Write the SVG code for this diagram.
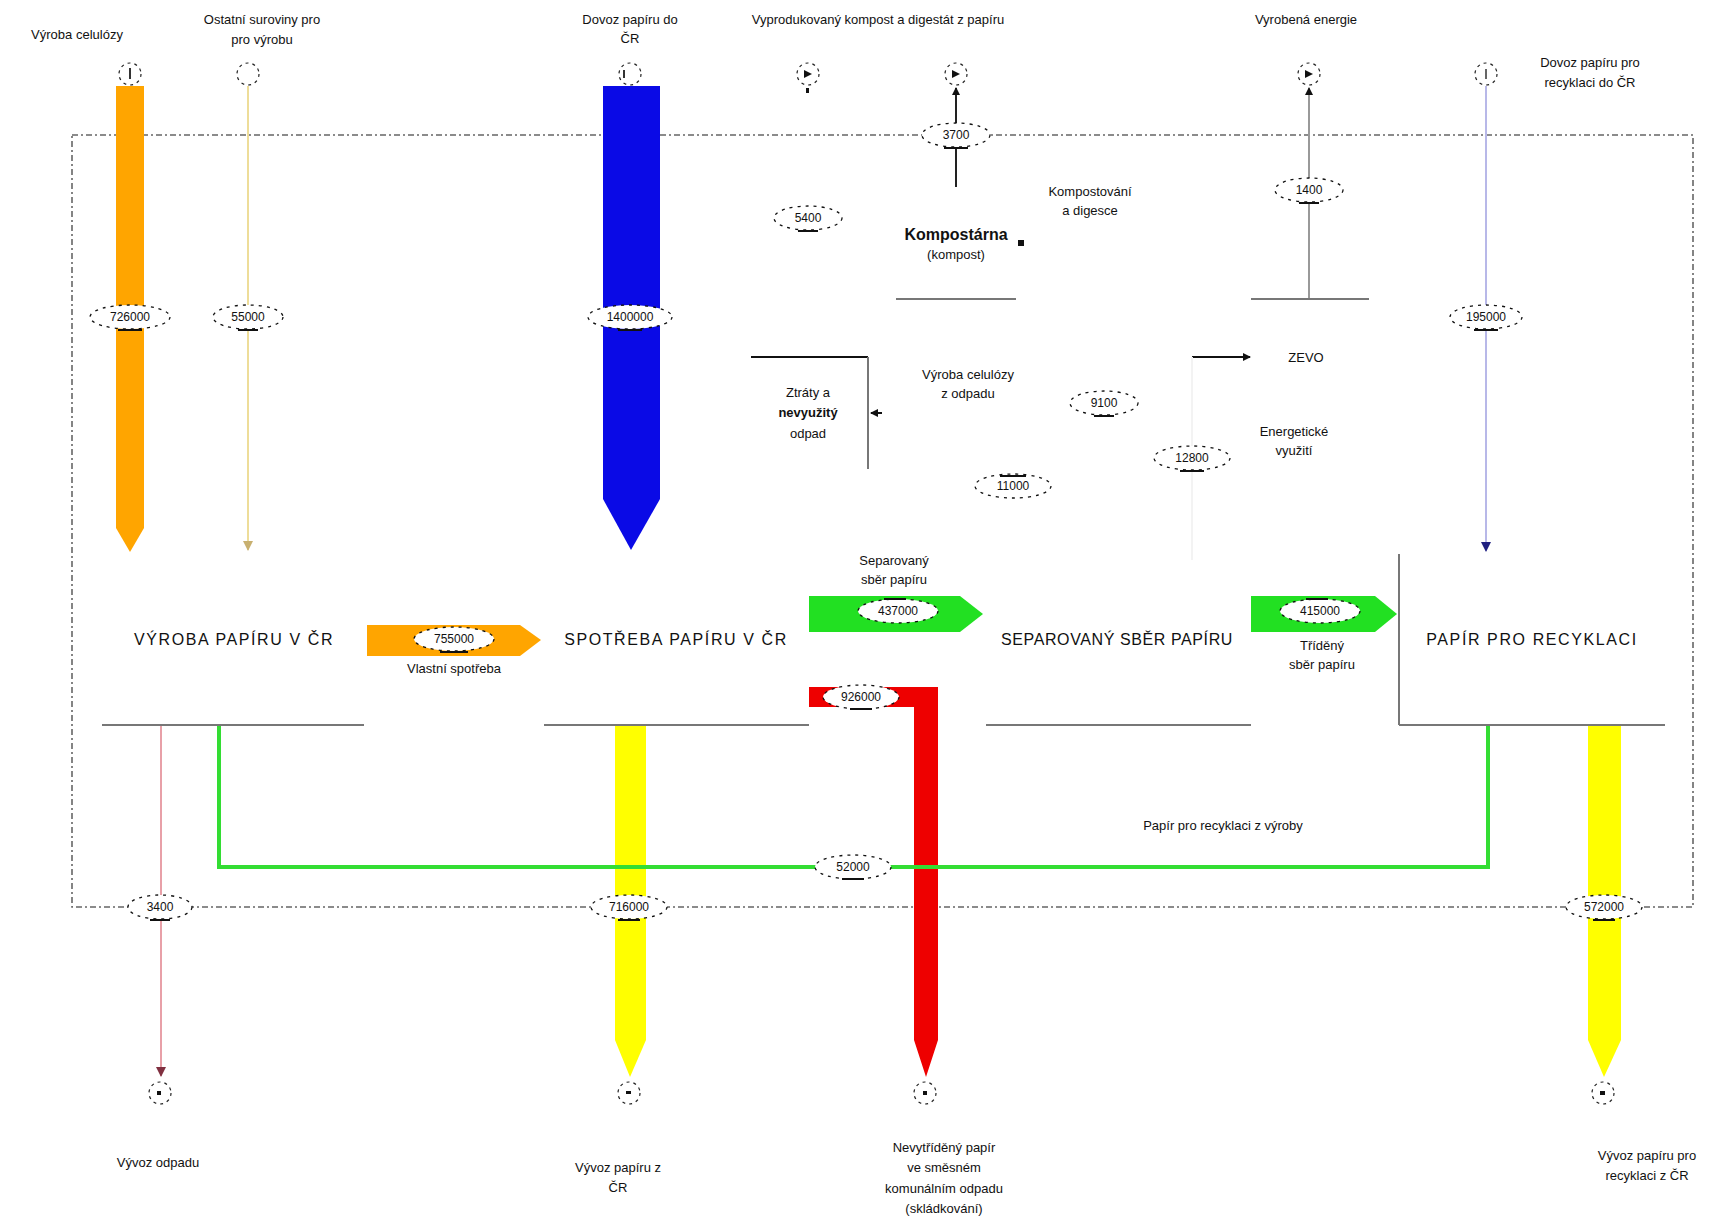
<svg xmlns="http://www.w3.org/2000/svg" width="1731" height="1219" viewBox="0 0 1731 1219">
<style>
text{font-family:"Liberation Sans",Arial,sans-serif;fill:#111;}
.lb{font-size:13px;text-anchor:middle;}
.nd{font-size:16px;text-anchor:middle;letter-spacing:1.6px;}
.num{font-size:12px;text-anchor:middle;}
.edge{fill:none;stroke:#777;stroke-width:2;}
.pt{fill:#fff;stroke:#222;stroke-width:1.2;stroke-dasharray:3 4;}
.tag{fill:#fff;stroke:#111;stroke-width:1.3;stroke-dasharray:3 5;}
.ul{stroke:#111;stroke-width:2;}
</style>
<defs>
<marker id="mk" markerWidth="8" markerHeight="8" refX="7" refY="4" orient="auto" markerUnits="userSpaceOnUse"><path d="M0,0 L8,4 L0,8 z" fill="#111"/></marker>
<marker id="mkn" markerWidth="10" markerHeight="10" refX="9" refY="5" orient="auto" markerUnits="userSpaceOnUse"><path d="M0,0 L10,5 L0,10 z" fill="#202080"/></marker>
<marker id="mkr" markerWidth="10" markerHeight="10" refX="9" refY="5" orient="auto" markerUnits="userSpaceOnUse"><path d="M0,0 L10,5 L0,10 z" fill="#803040"/></marker>
<marker id="mky" markerWidth="10" markerHeight="10" refX="9" refY="5" orient="auto" markerUnits="userSpaceOnUse"><path d="M0,0 L10,5 L0,10 z" fill="#C8B070"/></marker>
</defs>
<rect width="1731" height="1219" fill="#fff"/>

<!-- system boundary -->
<rect x="72" y="135" width="1621" height="772" fill="none" stroke="#666" stroke-width="1.6" stroke-dasharray="6 3 2 3"/>

<g id="connectors">
  <polygon points="116,86 144,86 144,528 130,552 116,528" fill="#FFA500"/>
  <line x1="248" y1="86" x2="248" y2="550" stroke="#EEDD99" stroke-width="2" marker-end="url(#mky)"/>
  <polygon points="603,86 660,86 660,499 631,550 603,499" fill="#0A0AE6"/>
  <line x1="1486" y1="86" x2="1486" y2="551" stroke="#B8B8E8" stroke-width="2" marker-end="url(#mkn)"/>
  <line x1="956" y1="187" x2="956" y2="88" stroke="#222" stroke-width="2" marker-end="url(#mk)"/>
  <line x1="1309" y1="299" x2="1309" y2="88" stroke="#999" stroke-width="2" marker-end="url(#mk)"/>
  <line x1="1192" y1="357" x2="1250" y2="357" stroke="#111" stroke-width="2" marker-end="url(#mk)"/>
  <line x1="1192" y1="357" x2="1192" y2="560" stroke="#F3F3F3" stroke-width="2"/>
  <line x1="882" y1="413" x2="871" y2="413" stroke="#111" stroke-width="2" marker-end="url(#mk)"/>
  <rect x="1018" y="240" width="6" height="6" fill="#111"/>
  <polygon points="367,625 520,625 541,640 520,656 367,656" fill="#FFA500"/>
  <polygon points="809,596 960,596 983,614 960,632 809,632" fill="#22E022"/>
  <polygon points="1251,596 1375,596 1397,614 1375,632 1251,632" fill="#22E022"/>
  <polygon points="809,687 938,687 938,1040 926,1077 914,1040 914,707 809,707" fill="#EE0000"/>
  <polygon points="615,725 646,725 646,1040 630,1077 615,1040" fill="#FFFF00"/>
  <polygon points="1588,725 1621,725 1621,1040 1604,1077 1588,1040" fill="#FFFF00"/>
  <line x1="161" y1="725" x2="161" y2="1076" stroke="#E8A0A8" stroke-width="2" marker-end="url(#mkr)"/>
  <polyline points="219,725 219,867 1488,867 1488,725" fill="none" stroke="#33DD33" stroke-width="4"/>
</g>

<g id="n-vyroba">
  <line x1="102" y1="725" x2="364" y2="725" class="edge"/>
  <text class="nd" x="234" y="645">VÝROBA PAPÍRU V ČR</text>
</g>
<g id="n-spotreba">
  <line x1="544" y1="725" x2="809" y2="725" class="edge"/>
  <text class="nd" x="676" y="645">SPOTŘEBA PAPÍRU V ČR</text>
</g>
<g id="n-sber">
  <line x1="986" y1="725" x2="1251" y2="725" class="edge"/>
  <text class="nd" x="1117" y="645" style="letter-spacing:0.6px">SEPAROVANÝ SBĚR PAPÍRU</text>
</g>
<g id="n-recyklace">
  <line x1="1399" y1="554" x2="1399" y2="725" class="edge"/>
  <line x1="1399" y1="725" x2="1665" y2="725" class="edge"/>
  <text class="nd" x="1532" y="645">PAPÍR PRO RECYKLACI</text>
</g>
<g id="n-kompostarna">
  <line x1="896" y1="299" x2="1016" y2="299" class="edge"/>
  <text class="nd" x="956" y="240" style="font-weight:bold;letter-spacing:0">Kompostárna</text>
  <text class="lb" x="956" y="259" fill="#555">(kompost)</text>
</g>
<g id="n-zevo">
  <line x1="1251" y1="299" x2="1369" y2="299" class="edge"/>
  <text class="lb" x="1306" y="362">ZEVO</text>
  <text class="lb" x="1294" y="436">Energetické</text>
  <text class="lb" x="1294" y="455">využití</text>
</g>
<g id="n-ztraty">
  <line x1="751" y1="357" x2="868" y2="357" stroke="#111" stroke-width="2"/>
  <line x1="868" y1="357" x2="868" y2="469" class="edge"/>
  <text class="lb" x="808" y="397">Ztráty a</text>
  <text class="lb" x="808" y="417" style="font-weight:bold">nevyužitý</text>
  <text class="lb" x="808" y="438">odpad</text>
</g>

<g id="points">
  <circle class="pt" cx="130" cy="74" r="11"/><line x1="130" y1="68" x2="130" y2="79" stroke="#333" stroke-width="2"/>
  <circle class="pt" cx="248" cy="74" r="11"/>
  <circle class="pt" cx="630" cy="74" r="11"/><line x1="624" y1="70" x2="624" y2="78" stroke="#333" stroke-width="2"/>
  <circle class="pt" cx="808" cy="74" r="11"/><path d="M804,70 L812,74 L804,78 z" fill="#111"/><rect x="806" y="88" width="3" height="5" fill="#111"/>
  <circle class="pt" cx="956" cy="74" r="11"/><path d="M952,70 L960,74 L952,78 z" fill="#111"/>
  <circle class="pt" cx="1309" cy="74" r="11"/><path d="M1305,70 L1313,74 L1305,78 z" fill="#111"/>
  <circle class="pt" cx="1486" cy="74" r="11"/><line x1="1486" y1="69" x2="1486" y2="79" stroke="#333" stroke-width="1.5"/>
  <circle class="pt" cx="160" cy="1093" r="11"/><rect x="157" y="1091" width="4" height="4" fill="#111"/>
  <circle class="pt" cx="629" cy="1093" r="11"/><rect x="626" y="1091" width="5" height="3" fill="#111"/>
  <circle class="pt" cx="925" cy="1093" r="11"/><rect x="923" y="1091" width="4" height="4" fill="#111"/>
  <circle class="pt" cx="1603" cy="1093" r="11"/><rect x="1600" y="1091" width="5" height="4" fill="#111"/>
</g>

<g id="tags">
  <ellipse class="tag" cx="130" cy="317" rx="40" ry="12"/><text class="num" x="130" y="321">726000</text><line class="ul" x1="118" y1="330" x2="142" y2="330"/>
  <ellipse class="tag" cx="248" cy="317" rx="35" ry="12"/><text class="num" x="248" y="321">55000</text><line class="ul" x1="238" y1="330" x2="258" y2="330"/>
  <ellipse class="tag" cx="630" cy="317" rx="42" ry="12"/><text class="num" x="630" y="321">1400000</text><line class="ul" x1="618" y1="330" x2="642" y2="330"/>
  <ellipse class="tag" cx="1486" cy="317" rx="36" ry="12"/><text class="num" x="1486" y="321">195000</text><line class="ul" x1="1474" y1="330" x2="1498" y2="330"/>
  <ellipse class="tag" cx="956" cy="135" rx="34" ry="12"/><text class="num" x="956" y="139">3700</text><line class="ul" x1="944" y1="148" x2="968" y2="148"/>
  <ellipse class="tag" cx="808" cy="218" rx="34" ry="12"/><text class="num" x="808" y="222">5400</text><line class="ul" x1="798" y1="231" x2="818" y2="231"/>
  <ellipse class="tag" cx="1309" cy="190" rx="34" ry="12"/><text class="num" x="1309" y="194">1400</text><line class="ul" x1="1299" y1="203" x2="1319" y2="203"/>
  <ellipse class="tag" cx="1104" cy="403" rx="34" ry="12"/><text class="num" x="1104" y="407">9100</text><line class="ul" x1="1094" y1="416" x2="1114" y2="416"/>
  <ellipse class="tag" cx="1013" cy="486" rx="38" ry="12"/><text class="num" x="1013" y="490">11000</text><line class="ul" x1="1000" y1="476" x2="1026" y2="476"/>
  <ellipse class="tag" cx="1192" cy="458" rx="38" ry="12"/><text class="num" x="1192" y="462">12800</text><line class="ul" x1="1180" y1="471" x2="1204" y2="471"/>
  <ellipse class="tag" cx="454" cy="639" rx="40" ry="12"/><text class="num" x="454" y="643">755000</text><line class="ul" x1="440" y1="652" x2="468" y2="652"/>
  <ellipse class="tag" cx="898" cy="611" rx="40" ry="12"/><text class="num" x="898" y="615">437000</text><line class="ul" x1="884" y1="599" x2="906" y2="599"/>
  <ellipse class="tag" cx="1320" cy="611" rx="40" ry="12"/><text class="num" x="1320" y="615">415000</text><line class="ul" x1="1306" y1="599" x2="1328" y2="599"/>
  <ellipse class="tag" cx="861" cy="697" rx="38" ry="12"/><text class="num" x="861" y="701">926000</text><line class="ul" x1="850" y1="709" x2="872" y2="709"/>
  <ellipse class="tag" cx="853" cy="867" rx="38" ry="12"/><text class="num" x="853" y="871">52000</text><line class="ul" x1="842" y1="879" x2="864" y2="879"/>
  <ellipse class="tag" cx="160" cy="907" rx="32" ry="12"/><text class="num" x="160" y="911">3400</text><line class="ul" x1="150" y1="920" x2="170" y2="920"/>
  <ellipse class="tag" cx="629" cy="907" rx="38" ry="12"/><text class="num" x="629" y="911">716000</text><line class="ul" x1="618" y1="920" x2="640" y2="920"/>
  <ellipse class="tag" cx="1604" cy="907" rx="38" ry="12"/><text class="num" x="1604" y="911">572000</text><line class="ul" x1="1593" y1="920" x2="1615" y2="920"/>
</g>

<g id="labels">
  <text class="lb" x="77" y="39">Výroba celulózy</text>
  <text class="lb" x="262" y="24">Ostatní suroviny pro</text>
  <text class="lb" x="262" y="44">pro výrobu</text>
  <text class="lb" x="630" y="24">Dovoz papíru do</text>
  <text class="lb" x="630" y="43">ČR</text>
  <text class="lb" x="878" y="24">Vyprodukovaný kompost a digestát z papíru</text>
  <text class="lb" x="1306" y="24">Vyrobená energie</text>
  <text class="lb" x="1590" y="67">Dovoz papíru pro</text>
  <text class="lb" x="1590" y="87">recyklaci do ČR</text>
  <text class="lb" x="1090" y="196">Kompostování</text>
  <text class="lb" x="1090" y="215">a digesce</text>
  <text class="lb" x="968" y="379">Výroba celulózy</text>
  <text class="lb" x="968" y="398">z odpadu</text>
  <text class="lb" x="454" y="673">Vlastní spotřeba</text>
  <text class="lb" x="894" y="565">Separovaný</text>
  <text class="lb" x="894" y="584">sběr papíru</text>
  <text class="lb" x="1322" y="650">Tříděný</text>
  <text class="lb" x="1322" y="669">sběr papíru</text>
  <text class="lb" x="1223" y="830">Papír pro recyklaci z výroby</text>
  <text class="lb" x="158" y="1167">Vývoz odpadu</text>
  <text class="lb" x="618" y="1172">Vývoz papíru z</text>
  <text class="lb" x="618" y="1192">ČR</text>
  <text class="lb" x="944" y="1152">Nevytříděný papír</text>
  <text class="lb" x="944" y="1172">ve směsném</text>
  <text class="lb" x="944" y="1193">komunálním odpadu</text>
  <text class="lb" x="944" y="1213">(skládkování)</text>
  <text class="lb" x="1647" y="1160">Vývoz papíru pro</text>
  <text class="lb" x="1647" y="1180">recyklaci z ČR</text>
</g>
</svg>
